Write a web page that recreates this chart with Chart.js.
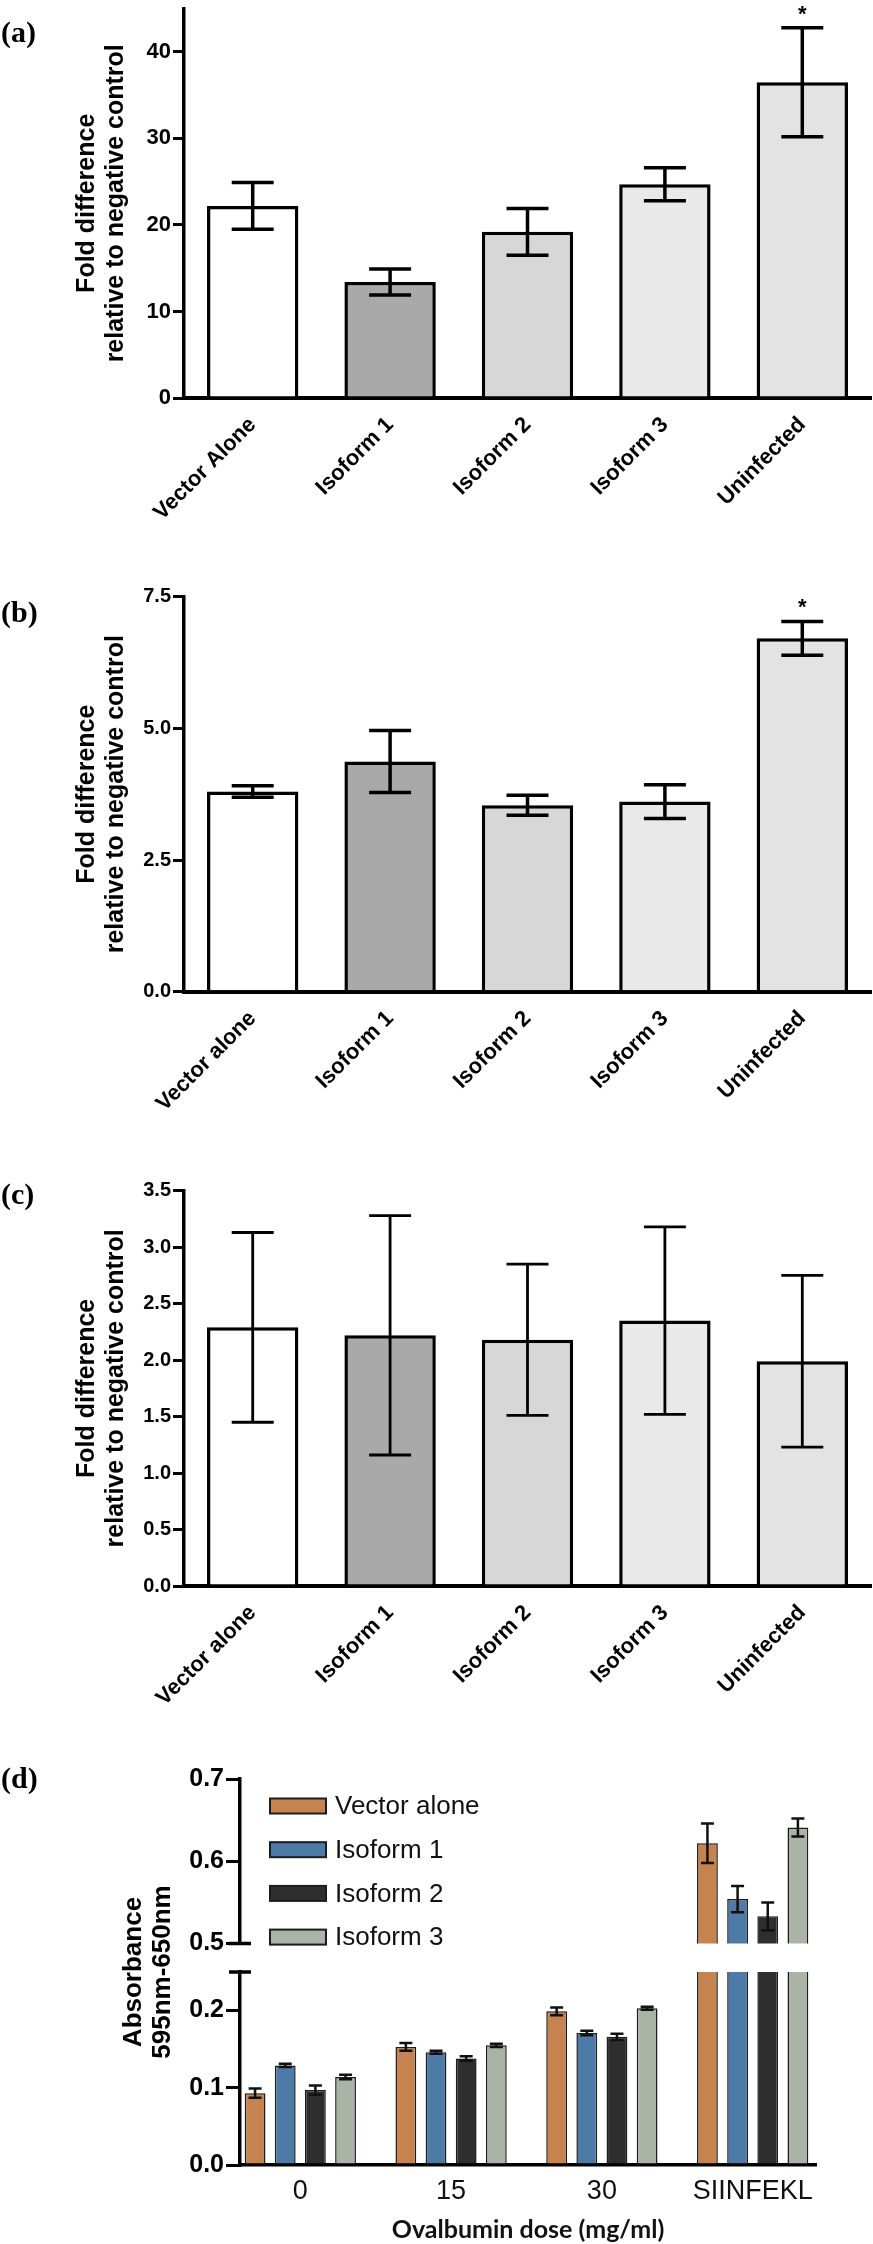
<!DOCTYPE html>
<html>
<head>
<meta charset="utf-8">
<script src="https://cdn.jsdelivr.net/npm/chart.js@4.4.1/dist/chart.umd.min.js"></script>
<style>
  html, body { margin: 0; padding: 0; background: #fff; }
  #page { position: relative; width: 873px; height: 2244px; overflow: hidden; }
  .panel { position: absolute; left: 0; width: 873px; }
  .tag { position: absolute; left: 1px; font: bold 30px "Liberation Serif", serif; line-height: 1; color: #000; }
</style>
</head>
<body>
<div id="page">
  <div class="panel" style="top:0;height:540px"><canvas id="chartA"></canvas></div>
  <div class="panel" style="top:540px;height:580px"><canvas id="chartB"></canvas></div>
  <div class="panel" style="top:1120px;height:600px"><canvas id="chartC"></canvas></div>
  <div class="panel" style="top:1730px;height:514px"><canvas id="chartDlow"></canvas></div>
  <div class="panel" style="top:1730px;height:230px"><canvas id="chartDup"></canvas></div>
  <div class="tag" style="top:17px">(a)</div>
  <div class="tag" style="top:597px">(b)</div>
  <div class="tag" style="top:1179px">(c)</div>
  <div class="tag" style="top:1763px">(d)</div>
</div>
<script>
// --- data (a) ---
const groupsA = ["Vector Alone", "Isoform 1", "Isoform 2", "Isoform 3", "Uninfected"];
const meanA = [22.2, 13.4, 19.2, 24.7, 36.5];
const errA = [2.7, 1.5, 2.7, 1.9, 6.3];
const starsA = ["", "", "", "", "*"];
const ticksA = [0, 10, 20, 30, 40];

// --- data (b) ---
const groupsB = ["Vector alone", "Isoform 1", "Isoform 2", "Isoform 3", "Uninfected"];
const meanB = [3.8, 4.37, 3.54, 3.61, 6.71];
const errB = [0.11, 0.59, 0.19, 0.32, 0.32];
const starsB = ["", "", "", "", "*"];
const ticksB = [0, 2.5, 5, 7.5];

// --- data (c) ---
const groupsC = ["Vector alone", "Isoform 1", "Isoform 2", "Isoform 3", "Uninfected"];
const meanC = [2.29, 2.22, 2.18, 2.35, 1.99];
const errC = [0.84, 1.06, 0.67, 0.83, 0.76];
const ticksC = [0, 0.5, 1, 1.5, 2, 2.5, 3, 3.5];

const yTitleFold = ["Fold difference", "relative to negative control"];

// --- data (d) ---
const doseLabels = ["0", "15", "30", "SIINFEKL"];
const seriesNames = ["Vector alone", "Isoform 1", "Isoform 2", "Isoform 3"];
const vectorAlone = [0.093, 0.153, 0.199, 0.622];
const isoform1 = [0.129, 0.146, 0.171, 0.554];
const isoform2 = [0.097, 0.138, 0.166, 0.533];
const isoform3 = [0.114, 0.155, 0.203, 0.641];
const vectorAloneErr = [0.006, 0.005, 0.005, 0.024];
const isoform1Err = [0.002, 0.002, 0.003, 0.016];
const isoform2Err = [0.006, 0.003, 0.004, 0.017];
const isoform3Err = [0.003, 0.002, 0.002, 0.011];
const ticksLower = [0, 0.1, 0.2];
const ticksUpper = [0.5, 0.6, 0.7];
const yTitleD = ["Absorbance", "595nm-650nm"];
const xTitleD = "Ovalbumin dose (mg/ml)";

const SANS = '"Liberation Sans", Arial, sans-serif';
Chart.defaults.font.family = SANS;
Chart.defaults.color = "#000";
Chart.defaults.animation = false;

const shades = ["#ffffff", "#a9a9a9", "#d7d7d7", "#e9e9e9", "#e3e3e3"];
const seriesColors = ["#c7834f", "#4e7aa8", "#2e2e2e", "#a9b3a6"];

// error bars drawn from dataset.errors
const errorBars = {
  id: "errorBars",
  afterDatasetsDraw(chart, args, opts) {
    const { ctx, chartArea: area } = chart;
    const y = chart.scales.y;
    ctx.save();
    ctx.beginPath();
    ctx.rect(area.left, area.top - 4, area.right - area.left, area.bottom - area.top + 4);
    ctx.clip();
    ctx.strokeStyle = opts.color;
    ctx.lineWidth = opts.lineWidth;
    chart.data.datasets.forEach((ds, di) => {
      if (!ds.errors) return;
      chart.getDatasetMeta(di).data.forEach((bar, i) => {
        const raw = ds.data[i];
        const v = typeof raw === "object" ? raw.y : raw;
        const top = y.getPixelForValue(v + ds.errors[i]);
        const bot = y.getPixelForValue(v - ds.errors[i]);
        ctx.beginPath();
        ctx.moveTo(bar.x, bot);
        ctx.lineTo(bar.x, top);
        ctx.moveTo(bar.x - opts.cap, top);
        ctx.lineTo(bar.x + opts.cap, top);
        ctx.moveTo(bar.x - opts.cap, bot);
        ctx.lineTo(bar.x + opts.cap, bot);
        ctx.stroke();
      });
    });
    ctx.restore();
  },
};

// significance marks above the error bars
const stars = {
  id: "stars",
  afterDatasetsDraw(chart, args, opts) {
    const ds = chart.data.datasets[0];
    if (!ds.stars) return;
    const { ctx } = chart;
    const y = chart.scales.y;
    ctx.save();
    ctx.fillStyle = "#000";
    ctx.font = "bold 22px " + SANS;
    ctx.textAlign = "center";
    ctx.textBaseline = "alphabetic";
    chart.getDatasetMeta(0).data.forEach((bar, i) => {
      if (!ds.stars[i]) return;
      ctx.fillText(ds.stars[i], bar.x, y.getPixelForValue(ds.data[i] + ds.errors[i]) - opts.gap);
    });
    ctx.restore();
  },
};

// little caps at the ends of the broken y axis
const breakCap = {
  id: "breakCap",
  afterDraw(chart, args, opts) {
    const { ctx, chartArea: area } = chart;
    const yy = opts.edge === "top" ? area.top : area.bottom;
    ctx.save();
    ctx.strokeStyle = "#000";
    ctx.lineWidth = 3.5;
    ctx.beginPath();
    ctx.moveTo(area.left - 11, yy);
    ctx.lineTo(area.left + 11, yy);
    ctx.stroke();
    ctx.restore();
  },
};

// legend inside the upper part of (d)
const boxLegend = {
  id: "boxLegend",
  afterDraw(chart) {
    const { ctx, chartArea: area } = chart;
    ctx.save();
    ctx.font = "26px " + SANS;
    ctx.textAlign = "left";
    ctx.textBaseline = "middle";
    chart.data.datasets.forEach((ds, i) => {
      const cy = area.top + 27 + i * 43.7;
      const bx = area.left + 30;
      ctx.fillStyle = ds.backgroundColor;
      ctx.fillRect(bx, cy - 7.5, 56, 15);
      ctx.strokeStyle = "#1c1c1c";
      ctx.lineWidth = 2;
      ctx.strokeRect(bx, cy - 7.5, 56, 15);
      ctx.fillStyle = "#111";
      ctx.fillText(ds.label, bx + 65, cy + 1);
    });
    ctx.restore();
  },
};

// y title of (d), centred on the axis break
const sideTitle = {
  id: "sideTitle",
  afterDraw(chart, args, opts) {
    const { ctx, chartArea: area } = chart;
    ctx.save();
    ctx.translate(134, area.top);
    ctx.rotate(-Math.PI / 2);
    ctx.font = "bold 26px " + SANS;
    ctx.fillStyle = "#000";
    ctx.textAlign = "center";
    ctx.textBaseline = "middle";
    opts.lines.forEach((t, i) => ctx.fillText(t, 0, i * 29));
    ctx.restore();
  },
};

function yAxis(o) {
  return {
    min: o.min,
    max: o.max,
    afterBuildTicks: (s) => { s.ticks = o.ticks.map((v) => ({ value: v })); },
    afterFit: (s) => { s.width = o.width; s.paddingTop = 0; s.paddingBottom = 0; },
    border: { color: "#000", width: 3.5 },
    grid: { drawOnChartArea: false, color: "#000", lineWidth: 3, tickLength: o.tickLength },
    ticks: { padding: 2, color: "#000", font: { size: o.fontSize, weight: "bold" }, callback: o.fmt },
    title: o.title
      ? { display: true, text: o.title, color: "#000", font: { size: 25, weight: "bold", lineHeight: 1.16 }, padding: { top: 73, bottom: 0 } }
      : { display: false },
  };
}

function foldChart(id, o) {
  return new Chart(document.getElementById(id), {
    type: "bar",
    data: {
      labels: o.labels,
      datasets: [{
        data: o.means,
        errors: o.errors,
        stars: o.stars,
        backgroundColor: shades,
        borderColor: "#000",
        borderWidth: 3.5,
        categoryPercentage: 1,
        barPercentage: 0.665,
      }],
    },
    options: {
      responsive: true,
      maintainAspectRatio: false,
      devicePixelRatio: 1,
      layout: { padding: { top: o.top, right: 2, left: 0, bottom: 0 } },
      plugins: {
        legend: { display: false },
        tooltip: { enabled: false },
        errorBars: { color: "#000", lineWidth: o.errLine, cap: 21 },
        stars: { gap: 7 },
      },
      scales: {
        x: {
          offset: true,
          afterFit: (s) => { s.height = o.xHeight; s.paddingLeft = 0; s.paddingRight = 0; },
          border: { color: "#000", width: 4 },
          grid: { display: false, drawTicks: false },
          ticks: { autoSkip: false, minRotation: 45, maxRotation: 45, padding: 14, color: "#000", font: { size: 22, weight: "bold" } },
        },
        y: yAxis({ min: 0, max: o.max, ticks: o.ticks, width: 184, tickLength: 11, fontSize: o.tickSize, fmt: o.fmt, title: yTitleFold }),
      },
    },
    plugins: [errorBars, stars],
  });
}

foldChart("chartA", {
  labels: groupsA, means: meanA, errors: errA, stars: starsA,
  max: 45, ticks: ticksA, fmt: (v) => String(v), tickSize: 22,
  top: 8.6, xHeight: 540 - 398, errLine: 3.5,
});
foldChart("chartB", {
  labels: groupsB, means: meanB, errors: errB, stars: starsB,
  max: 7.5, ticks: ticksB, fmt: (v) => v.toFixed(1), tickSize: 20,
  top: 56.7, xHeight: 580 - 451.7, errLine: 3.5,
});
foldChart("chartC", {
  labels: groupsC, means: meanC, errors: errC, stars: null,
  max: 3.5, ticks: ticksC, fmt: (v) => v.toFixed(1), tickSize: 20,
  top: 70.7, xHeight: 600 - 466, errLine: 2.8,
});

// --- (d): two charts sharing the dose axis, split y axis ---
const doseSeries = [vectorAlone, isoform1, isoform2, isoform3];
const doseErrors = [vectorAloneErr, isoform1Err, isoform2Err, isoform3Err];

function doseDatasets() {
  return doseSeries.map((vals, k) => ({
    label: seriesNames[k],
    data: vals.map((v, i) => ({ x: i, y: v })),
    errors: doseErrors[k],
    backgroundColor: seriesColors[k],
    borderColor: "#1c1c1c",
    borderWidth: 1.5,
    categoryPercentage: 0.8,
    barPercentage: 0.69,
    clip: 0,
  }));
}

function doseX(show) {
  return {
    type: "linear",
    display: show,
    min: -0.4,
    max: 3.42,
    offset: false,
    afterBuildTicks: (s) => { s.ticks = doseLabels.map((_, i) => ({ value: i })); },
    afterFit: (s) => { s.height = show ? 514 - 435 : 0; s.paddingLeft = 0; s.paddingRight = 0; },
    border: { color: "#000", width: 3.5 },
    grid: { display: false, drawTicks: false },
    ticks: { autoSkip: false, maxRotation: 0, minRotation: 0, padding: 10, color: "#111", font: { size: 27 }, callback: (v) => doseLabels[v] },
    title: { display: show, text: xTitleD, color: "#111", font: { family: "Lato", size: 25, weight: "bold", lineHeight: 1.15 }, padding: { top: 0, bottom: 0 } },
  };
}

new Chart(document.getElementById("chartDlow"), {
  type: "bar",
  data: { datasets: doseDatasets() },
  options: {
    responsive: true,
    maintainAspectRatio: false,
    devicePixelRatio: 1,
    layout: { padding: { top: 242, right: 873 - 816, left: 0, bottom: 0 } },
    plugins: {
      legend: { display: false },
      tooltip: { enabled: false },
      errorBars: { color: "#111", lineWidth: 2.5, cap: 6.5 },
      breakCap: { edge: "top" },
      sideTitle: { lines: yTitleD },
    },
    scales: {
      x: doseX(true),
      y: yAxis({ min: 0, max: 0.25, ticks: ticksLower, width: 240, tickLength: 14, fontSize: 25, fmt: (v) => v.toFixed(1) }),
    },
  },
  plugins: [errorBars, breakCap, sideTitle],
});

new Chart(document.getElementById("chartDup"), {
  type: "bar",
  data: { datasets: doseDatasets() },
  options: {
    responsive: true,
    maintainAspectRatio: false,
    devicePixelRatio: 1,
    layout: { padding: { top: 49, right: 873 - 816, left: 0, bottom: 230 - 213.5 } },
    plugins: {
      legend: { display: false },
      tooltip: { enabled: false },
      errorBars: { color: "#111", lineWidth: 2.5, cap: 6.5 },
      breakCap: { edge: "bottom" },
    },
    scales: {
      x: doseX(false),
      y: yAxis({ min: 0.5, max: 0.7, ticks: ticksUpper, width: 240, tickLength: 14, fontSize: 25, fmt: (v) => v.toFixed(1) }),
    },
  },
  plugins: [errorBars, breakCap, boxLegend],
});
</script>
</body>
</html>
